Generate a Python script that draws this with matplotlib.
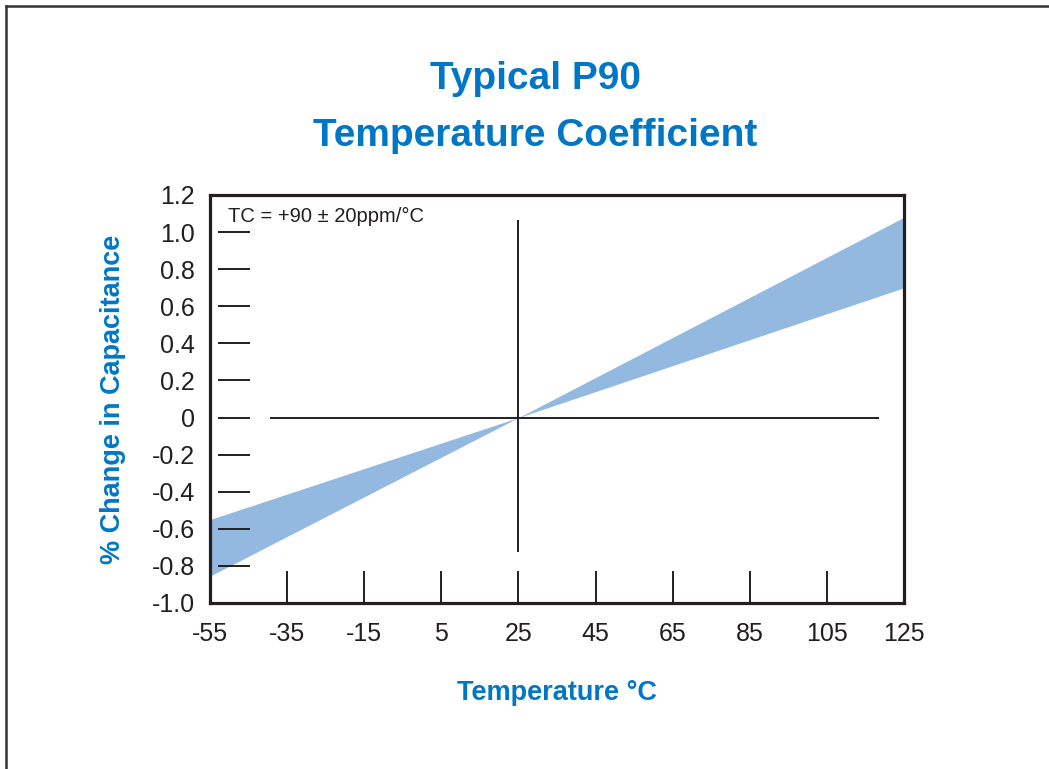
import matplotlib
matplotlib.use("Agg")
import matplotlib.pyplot as plt
from matplotlib.lines import Line2D
from matplotlib import font_manager
import matplotlib.patheffects as pe

# ---- data ----
temp_band = [-55, 25, 125]
band_upper = [-0.55, 0.0, 1.08]
band_lower = [-0.855, 0.0, 0.70]
x_ticks = [-55, -35, -15, 5, 25, 45, 65, 85, 105, 125]
x_tick_labels = ["-55", "-35", "-15", "5", "25", "45", "65", "85", "105", "125"]
y_ticks = [1.2, 1.0, 0.8, 0.6, 0.4, 0.2, 0.0, -0.2, -0.4, -0.6, -0.8, -1.0]
y_tick_labels = ["1.2", "1.0", "0.8", "0.6", "0.4", "0.2", "0", "-0.2", "-0.4", "-0.6", "-0.8", "-1.0"]
inner_x_marks = [-35, -15, 5, 25, 45, 65, 85, 105]
inner_y_marks = [1.0, 0.8, 0.6, 0.4, 0.2, 0.0, -0.2, -0.4, -0.6, -0.8]
title_lines = ["Typical P90", "Temperature Coefficient"]
annotation = "TC = +90 \u00b1 20ppm/\u00b0C"

BLUE = "#0077c6"
BAND = "#94b9e1"
INK = "#231f20"


def _wt(f):
    w = f.weight
    if isinstance(w, str):
        w = {"bold": 700, "normal": 400, "regular": 400}.get(w, 400)
    return w


# title font: Liberation Sans Narrow (bold if present, else regular + stroke)
lib = [f for f in font_manager.fontManager.ttflist
       if f.name == "Liberation Sans Narrow" and f.style == "normal"]
needs_stroke = False
if lib:
    lib.sort(key=lambda f: abs(_wt(f) - 700))
    best = lib[0]
    title_fp = font_manager.FontProperties(fname=best.fname, size=32.5)
    needs_stroke = _wt(best) < 600
else:
    title_fp = font_manager.FontProperties(family="Liberation Sans", weight="bold", size=28)

plt.rcParams["font.family"] = ["Liberation Sans", "DejaVu Sans"]

fig = plt.figure(figsize=(10.49, 7.69), dpi=100)
ax = fig.add_axes([210 / 1049, 1 - 603 / 769, 694 / 1049, 408 / 769])
ax.set_xlim(-55, 125)
ax.set_ylim(-1.0, 1.2)

ax.fill_between(temp_band, band_lower, band_upper, color=BAND, linewidth=0, zorder=1)

# axis-style inner tick marks
ytr = ax.get_yaxis_transform()
xtr = ax.get_xaxis_transform()
for v in inner_y_marks:
    ax.plot([8 / 694, 40 / 694], [v, v], transform=ytr, color=INK, lw=1.4, solid_capstyle="butt", zorder=3)
for v in inner_x_marks:
    ax.plot([v, v], [0, 32 / 408], transform=xtr, color=INK, lw=1.4, solid_capstyle="butt", zorder=3)

# crosshair lines
ax.plot([-39.5, 118.5], [0, 0], color=INK, lw=1.4, solid_capstyle="butt", zorder=3)
ax.plot([25, 25], [-0.725, 1.065], color=INK, lw=1.4, solid_capstyle="butt", zorder=3)

ax.set_xticks(x_ticks)
ax.set_xticklabels(x_tick_labels)
ax.set_yticks(y_ticks)
ax.set_yticklabels(y_tick_labels)
ax.tick_params(axis="both", length=0, labelsize=18, labelcolor=INK)
ax.tick_params(axis="x", pad=14)
ax.tick_params(axis="y", pad=11)
for s in ax.spines.values():
    s.set_linewidth(2.3)
    s.set_color(INK)

ax.text(18 / 694, (603 - 222) / 408, annotation, transform=ax.transAxes,
        fontsize=14.5, color=INK, ha="left", va="baseline")

ax.set_xlabel("Temperature \u00b0C", fontsize=19.5, fontweight="bold", color=BLUE, labelpad=24)
ax.set_ylabel("% Change in Capacitance", fontsize=19.5, fontweight="bold", color=BLUE, labelpad=18)

effects = [pe.withStroke(linewidth=1.8, foreground=BLUE)] if needs_stroke else None
fig.text(535 / 1049, 1 - 89 / 769, title_lines[0], ha="center", va="baseline",
         fontproperties=title_fp, color=BLUE, path_effects=effects)
fig.text(535 / 1049, 1 - 146 / 769, title_lines[1], ha="center", va="baseline",
         fontproperties=title_fp, color=BLUE, path_effects=effects)

# outer frame (left and top edges)
fig.add_artist(Line2D([6 / 1049, 6 / 1049], [0, 1 - 6 / 769], color="#333333", lw=1.8))
fig.add_artist(Line2D([6 / 1049, 1], [1 - 6 / 769, 1 - 6 / 769], color="#333333", lw=1.8))

fig.savefig("out.png", dpi=100)
